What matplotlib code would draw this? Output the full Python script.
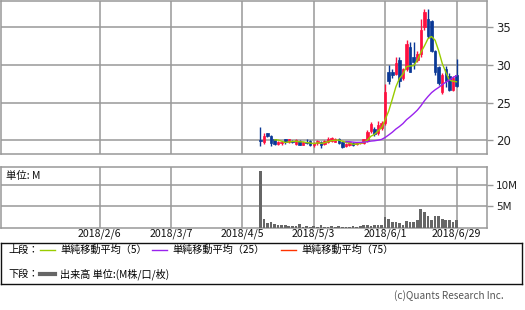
import numpy as np
import matplotlib
matplotlib.use("Agg")
import matplotlib.pyplot as plt
from matplotlib.lines import Line2D
from matplotlib.patches import Rectangle

plt.rcParams['font.family'] = ['Noto Sans CJK JP', 'DejaVu Sans']

# =========================
# DATA (trading-day index, 0 = first session)
# =========================
opens = [20.0, 19.8, 20.9, 20.6, 20.1, 19.5, 19.6, 20.1, 19.7, 19.9,
         19.5, 19.9, 19.4, 19.7, 19.9, 19.3, 19.6, 19.8, 19.5, 19.7,
         19.9, 19.8, 20.2, 19.7, 19.2, 19.3, 19.6, 19.5, 19.6, 19.6,
         19.9, 21.2, 21.5, 20.9, 21.6, 22.3, 29.1, 29.0, 28.8, 30.7,
         28.2, 29.5, 32.4, 31.0, 30.6, 31.5, 35.0, 36.1, 35.9, 31.9,
         29.7, 26.4, 29.4, 28.5, 26.7, 28.7]
highs = [21.8, 20.9, 21.0, 20.7, 20.2, 19.9, 19.9, 20.2, 20.2, 20.0,
         20.2, 20.0, 19.8, 20.1, 20.0, 19.8, 20.0, 19.9, 20.0, 20.4,
         20.4, 20.3, 20.3, 19.8, 19.6, 19.8, 19.7, 19.8, 19.8, 20.2,
         21.4, 22.4, 21.8, 22.6, 22.6, 27.5, 30.0, 29.4, 31.0, 31.0,
         29.6, 33.3, 33.0, 33.0, 31.8, 36.1, 37.5, 37.4, 36.0, 32.0,
         29.9, 28.9, 29.9, 28.9, 28.5, 30.8]
lows = [19.2, 19.5, 20.4, 19.2, 19.3, 19.3, 19.4, 19.5, 19.6, 19.6,
        19.4, 19.3, 19.3, 19.5, 19.2, 19.1, 19.4, 19.0, 19.4, 19.6,
        19.8, 19.7, 19.5, 19.0, 19.1, 19.2, 19.2, 19.4, 19.5, 19.5,
        19.8, 21.0, 20.6, 20.7, 21.4, 22.0, 27.4, 28.3, 28.6, 27.0,
        28.0, 29.2, 29.0, 29.4, 30.4, 31.0, 34.6, 33.6, 31.7, 28.6,
        27.3, 26.2, 27.0, 26.5, 26.5, 27.1]
closes = [19.9, 20.6, 20.6, 19.6, 19.5, 19.8, 19.8, 19.7, 20.1, 19.7,
          20.0, 19.4, 19.7, 19.6, 19.4, 19.6, 19.9, 19.4, 19.9, 20.2,
          20.3, 20.1, 19.6, 19.1, 19.5, 19.7, 19.4, 19.6, 19.7, 20.1,
          21.1, 22.1, 20.8, 22.0, 22.3, 26.4, 27.9, 28.6, 30.2, 27.9,
          29.4, 32.8, 29.0, 30.4, 31.5, 34.6, 37.1, 33.8, 31.9, 29.0,
          27.6, 28.7, 27.9, 26.7, 28.3, 27.2]
volumes = [13.4, 2.0, 1.0, 1.2, 0.9, 0.5, 0.5, 0.5, 0.4, 0.4,
           0.3, 0.8, 0.2, 0.3, 0.2, 0.4, 0.2, 0.6, 0.2, 0.2,
           0.3, 0.2, 0.4, 0.2, 0.2, 0.2, 0.3, 0.2, 0.4, 0.5,
           0.5, 0.4, 0.5, 0.5, 0.5, 2.4, 2.1, 1.4, 1.3, 1.1,
           0.7, 1.5, 1.4, 1.2, 1.7, 4.3, 3.6, 2.8, 1.9, 2.8,
           2.8, 2.0, 1.9, 1.8, 1.2, 1.9]

date_labels = ["2018/2/6", "2018/3/7", "2018/4/5", "2018/5/3", "2018/6/1", "2018/6/29"]
date_pos = [-45, -25, -5, 15, 35, 55]
price_ticks = [20, 25, 30, 35]
vol_ticks = [5, 10]
vol_labels = ["5M", "10M"]

opens, highs, lows, closes, volumes = map(np.array, (opens, highs, lows, closes, volumes))
x = np.arange(len(closes))

def sma(v, n):
    out = np.full(len(v), np.nan)
    for i in range(n - 1, len(v)):
        out[i] = v[i - n + 1:i + 1].mean()
    return out

ma5 = sma(closes, 5)
ma25 = sma(closes, 25)
ma75 = sma(closes, 75)

UP = "#ff1040"
DOWN = "#0a3896"
GRID = "#999999"
XLIM = (-72.8, 63.6)

# =========================
# FIGURE
# =========================
fig = plt.figure(figsize=(5.25, 3.10), dpi=100)

ax = fig.add_axes([0.001, 0.503, 0.927, 0.495])
axv = fig.add_axes([0.001, 0.266, 0.927, 0.195])

# price panel
for i in x:
    up = closes[i] >= opens[i]
    c = UP if up else DOWN
    ax.vlines(i, lows[i], highs[i], color=c, lw=1.0, zorder=3)
    lo, hi = min(opens[i], closes[i]), max(opens[i], closes[i])
    ax.add_patch(Rectangle((i - 0.35, lo), 0.7, max(hi - lo, 0.06),
                           facecolor=c, edgecolor=c, lw=0.5, zorder=4))
ax.plot(x, ma5, color="#99cc00", lw=1.0, zorder=5)
ax.plot(x, ma25, color="#9922ee", lw=1.0, zorder=5)
ax.plot(x, ma75, color="#ff3300", lw=1.0, zorder=5)

ax.set_xlim(*XLIM)
ax.set_ylim(18.15, 38.55)
ax.set_xticks(date_pos)
ax.set_xticklabels([])
ax.set_yticks(price_ticks)
ax.yaxis.tick_right()
ax.tick_params(axis="y", length=4.5, width=1, color=GRID, pad=2,
               labelsize=8.5, labelcolor="#222222")
ax.tick_params(axis="x", length=0)
for t in ax.get_yticklabels():
    t.set_family("DejaVu Sans")
ax.grid(True, color=GRID, lw=1.1)
ax.set_axisbelow(True)
for s in ax.spines.values():
    s.set_color(GRID)
    s.set_linewidth(1.1)

# volume panel
axv.bar(x, volumes, width=0.75, color="#666666", zorder=3)
axv.set_xlim(*XLIM)
axv.set_ylim(0, 14.3)
axv.set_xticks(date_pos)
axv.set_xticklabels(date_labels, fontsize=7.6, color="#111111")
axv.tick_params(axis="x", length=0, pad=0.5)
axv.set_yticks(vol_ticks)
axv.set_yticklabels(vol_labels)
axv.yaxis.tick_right()
axv.tick_params(axis="y", length=4.5, width=1, color=GRID, pad=2,
                labelsize=7.5, labelcolor="#222222")
for t in axv.get_yticklabels():
    t.set_family("DejaVu Sans")
axv.grid(True, color=GRID, lw=1.1)
axv.set_axisbelow(True)
for s in axv.spines.values():
    s.set_color(GRID)
    s.set_linewidth(1.1)
axv.text(0.012, 0.86, "単位: M", transform=axv.transAxes, fontsize=7.5,
         va="center", ha="left", color="#111111")

# legend box
axl = fig.add_axes([0.002, 0.084, 0.992, 0.132])
axl.set_xticks([])
axl.set_yticks([])
for s in axl.spines.values():
    s.set_color("#111111")
    s.set_linewidth(1.0)

W = 525.0
row1, row2 = 1 - 250 / 310, 1 - 274 / 310
fs = 7.3
fig.text(8 / W, row1, "上段：", fontsize=fs, va="center")
fig.text(8 / W, row2, "下段：", fontsize=fs, va="center")
entries = [(40, "#99cc00", "単純移動平均（5）"),
           (152, "#9922ee", "単純移動平均（25）"),
           (281, "#ff3300", "単純移動平均（75）")]
for x0, col, lab in entries:
    fig.add_artist(Line2D([x0 / W, (x0 + 15) / W], [row1, row1], color=col, lw=1.0))
    fig.text((x0 + 20) / W, row1, lab, fontsize=fs, va="center")
fig.add_artist(Line2D([40 / W, 55 / W], [row2, row2], color="#666666", lw=3.0))
fig.text(60 / W, row2, "出来高 単位:(M株/口/枚)", fontsize=fs, va="center")

fig.text(504 / W, 1 - 296 / 310, "(c)Quants Research Inc.", fontsize=7.2,
         color="#555555", ha="right", va="center")

fig.savefig("out.png", dpi=100)
